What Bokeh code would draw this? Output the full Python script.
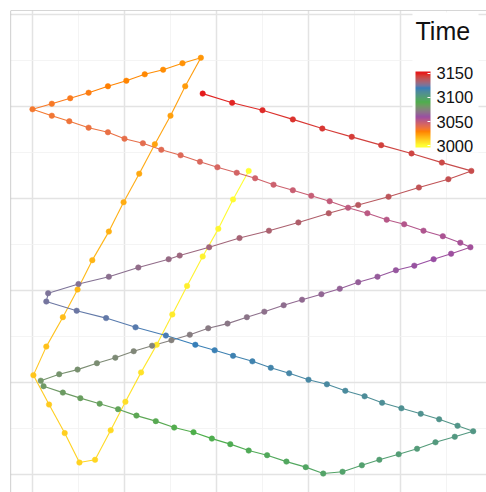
from bokeh.plotting import figure
from bokeh.models import (Range1d, Grid, FixedTicker, Span, ColorBar, LinearColorMapper,
                          BoxAnnotation, Label)
from bokeh.embed import file_html
from bokeh.resources import INLINE

# ---- data ----
x_pos = [23.5, 21.8, 20.2, 18.5, 16.8, 15.2, 13.5, 11.8, 10.1, 8.5, 6.8, 5.1, 3.5, 1.8, 0.1,
         1.5, 3.3, 4.9, 6.5, 8.3, 9.9, 11.6, 13.3, 15.0, 16.6, 18.3,
         16.3, 14.2, 12.2, 10.2, 8.2, 6.1, 4.1, 2.1, 0.0,
         2.1, 4.0, 6.1, 8.2, 10.0, 12.0, 14.0, 16.1, 18.2, 20.1, 22.2, 24.2, 26.2, 28.3, 30.3,
         32.3, 34.3, 36.4, 38.5, 40.4, 42.5, 44.6, 46.5, 47.6,
         45.5, 43.6, 41.5, 39.5, 37.5, 35.4, 33.4, 31.4, 29.3, 27.3, 25.2, 23.3, 21.2, 19.1,
         17.1, 15.1, 13.0, 11.0, 9.0, 7.0, 4.9, 2.9, 0.9,
         1.2, 3.3, 5.2, 7.3, 9.3, 11.3, 13.4, 15.4, 17.5, 19.5, 21.5, 23.5, 25.5, 27.6, 29.7,
         31.6, 33.7, 35.8, 37.7, 39.8, 41.8, 43.8, 45.9, 47.9,
         46.2, 44.2, 42.2, 40.1, 38.0, 36.1, 34.0, 32.0, 30.0, 27.9, 25.9, 23.9, 21.8, 19.8,
         17.7, 14.5, 11.2, 8.0, 4.8, 1.5,
         1.7, 5.0, 8.3, 11.5, 14.8, 16.0, 19.2, 22.5, 25.7, 28.9, 32.2, 35.4, 38.7, 42.0, 45.2, 47.7,
         44.5, 41.2, 37.9, 34.7, 31.5, 28.3, 25.0, 21.7, 18.5]

y_pos = [33.0, 29.9, 26.7, 23.7, 20.5, 17.4, 14.1, 11.1, 7.9, 4.8, 1.6, 1.3, 4.5, 7.6, 10.8,
         13.9, 17.1, 20.1, 23.3, 26.4, 29.6, 32.7, 35.9, 39.0, 42.2, 45.3,
         44.7, 44.0, 43.5, 42.8, 42.2, 41.5, 40.9, 40.3, 39.7,
         39.0, 38.4, 37.7, 37.2, 36.5, 36.0, 35.3, 34.7, 34.0, 33.4, 32.8, 32.2, 31.5, 30.9, 30.3,
         29.7, 29.0, 28.4, 27.7, 27.2, 26.5, 25.9, 25.2, 24.7,
         24.0, 23.4, 22.7, 22.2, 21.5, 20.9, 20.2, 19.6, 19.0, 18.4, 17.7, 17.1, 16.4, 15.9,
         15.2, 14.6, 14.0, 13.4, 12.7, 12.1, 11.4, 10.9, 10.2,
         9.6, 8.9, 8.3, 7.7, 7.1, 6.4, 5.8, 5.1, 4.6, 3.9, 3.3, 2.6, 2.1, 1.4, 0.8,
         0.1, 0.3, 1.0, 1.6, 2.2, 2.8, 3.5, 4.1, 4.7,
         5.3, 6.0, 6.6, 7.2, 7.8, 8.5, 9.1, 9.8, 10.3, 11.0, 11.6, 12.3, 12.9, 13.5,
         14.1, 15.1, 16.0, 17.0, 17.8, 18.8,
         19.7, 20.7, 21.5, 22.5, 23.4, 23.8, 24.7, 25.7, 26.5, 27.4, 28.4, 29.3, 30.2, 31.2, 32.1, 33.0,
         33.9, 34.9, 35.8, 36.7, 37.6, 38.6, 39.6, 40.4, 41.4]

time = [3000, 3001, 3002, 3003, 3004, 3005, 3006, 3007, 3008, 3009, 3010, 3011, 3012, 3013, 3014,
        3015, 3016, 3017, 3018, 3019, 3020, 3021, 3022, 3023, 3024, 3025, 3026, 3027, 3028, 3029,
        3030, 3031, 3032, 3033, 3034, 3035, 3036, 3037, 3038, 3039, 3040, 3041, 3042, 3043, 3044,
        3045, 3046, 3047, 3048, 3049, 3050, 3051, 3052, 3053, 3054, 3055, 3056, 3057, 3058, 3059,
        3060, 3061, 3062, 3063, 3064, 3065, 3066, 3067, 3068, 3069, 3070, 3071, 3072, 3073, 3074,
        3075, 3076, 3077, 3078, 3079, 3080, 3081, 3082, 3083, 3084, 3085, 3086, 3087, 3088, 3089,
        3090, 3091, 3092, 3093, 3094, 3095, 3096, 3097, 3098, 3099, 3100, 3101, 3102, 3103, 3104,
        3105, 3106, 3107, 3108, 3109, 3110, 3111, 3112, 3113, 3114, 3115, 3116, 3117, 3118, 3119,
        3120, 3121, 3122, 3123, 3124, 3125, 3126, 3127, 3128, 3129, 3130, 3131, 3132, 3133, 3134,
        3135, 3136, 3137, 3138, 3139, 3140, 3141, 3142, 3143, 3144, 3145, 3146, 3147, 3148, 3149,
        3150]

time_breaks = [3000, 3050, 3100, 3150]
legend_title = "Time"
palette_stops = ["#FFFF33", "#FF7F00", "#984EA3", "#4DAF4A", "#377EB8", "#E41A1C"]

x_major = [0, 10, 20, 30, 40, 50]
x_minor = [-5, 5, 15, 25, 35, 45, 55]
y_major = [0, 10, 20, 30, 40, 50]
y_minor = [-5, 5, 15, 25, 35, 45, 55]


# ---- colour ramp interpolated in CIELAB (like ggplot's gradientn) ----
def _lin(c):
    c = c / 255.0
    return c / 12.92 if c <= 0.04045 else ((c + 0.055) / 1.055) ** 2.4


def _gam(c):
    c = 12.92 * c if c <= 0.0031308 else 1.055 * (c ** (1 / 2.4)) - 0.055
    return max(0, min(255, round(c * 255)))


WP = (0.95047, 1.0, 1.08883)
D = 6 / 29


def _f(t):
    return t ** (1 / 3) if t > D ** 3 else t / (3 * D * D) + 4 / 29


def _finv(t):
    return t ** 3 if t > D else 3 * D * D * (t - 4 / 29)


def hex_to_lab(h):
    r, g, b = (_lin(int(h[i:i + 2], 16)) for i in (1, 3, 5))
    X = 0.4124564 * r + 0.3575761 * g + 0.1804375 * b
    Y = 0.2126729 * r + 0.7151522 * g + 0.0721750 * b
    Z = 0.0193339 * r + 0.1191920 * g + 0.9503041 * b
    fx, fy, fz = _f(X / WP[0]), _f(Y / WP[1]), _f(Z / WP[2])
    return (116 * fy - 16, 500 * (fx - fy), 200 * (fy - fz))


def lab_to_hex(lab):
    L, a, b = lab
    fy = (L + 16) / 116
    fx = fy + a / 500
    fz = fy - b / 200
    X, Y, Z = WP[0] * _finv(fx), WP[1] * _finv(fy), WP[2] * _finv(fz)
    r = 3.2404542 * X - 1.5371385 * Y - 0.4985314 * Z
    g = -0.9692660 * X + 1.8760108 * Y + 0.0415560 * Z
    bb = 0.0556434 * X - 0.2040259 * Y + 1.0572252 * Z
    return "#%02x%02x%02x" % (_gam(max(r, 0)), _gam(max(g, 0)), _gam(max(bb, 0)))


stop_labs = [hex_to_lab(c) for c in palette_stops]
t_lo, t_hi = min(time), max(time)


def ramp(v):
    f = (v - t_lo) / (t_hi - t_lo)
    f = max(0.0, min(1.0, f))
    n = len(stop_labs) - 1
    k = min(int(f * n), n - 1)
    u = f * n - k
    a, b = stop_labs[k], stop_labs[k + 1]
    return lab_to_hex(tuple(a[i] + (b[i] - a[i]) * u for i in range(3)))


point_cols = [ramp(t) for t in time]

# ---- figure ----
p = figure(width=486, height=492, output_backend="svg", toolbar_location=None,
           x_axis_location=None, y_axis_location=None,
           x_range=Range1d(-2.391, 49.348), y_range=Range1d(-1.957, 50.435),
           min_border_left=10, min_border_top=10, min_border_right=0, min_border_bottom=0,
           outline_line_color=None, background_fill_color="white", border_fill_color="white")

p.center = []
p.add_layout(Grid(dimension=0, ticker=FixedTicker(ticks=x_major, minor_ticks=x_minor),
                  grid_line_color="#E3E3E3", grid_line_width=1.5,
                  minor_grid_line_color="#F1F1F1", minor_grid_line_width=0.8))
p.add_layout(Grid(dimension=1, ticker=FixedTicker(ticks=y_major, minor_ticks=y_minor),
                  grid_line_color="#E3E3E3", grid_line_width=1.5,
                  minor_grid_line_color="#F1F1F1", minor_grid_line_width=0.8))

# white key box drawn over the grid but under the data
p.add_layout(BoxAnnotation(left=402, right=468, bottom=340, top=480,
                           left_units="screen", right_units="screen",
                           bottom_units="screen", top_units="screen",
                           fill_color="white", fill_alpha=1.0, line_color=None,
                           level="underlay"))

p.add_layout(Span(location=p.y_range.end, dimension="width", line_color="#ADADAD", line_width=1.2))
p.add_layout(Span(location=p.x_range.start, dimension="height", line_color="#ADADAD", line_width=1.2))

p.segment(x0=x_pos[:-1], y0=y_pos[:-1], x1=x_pos[1:], y1=y_pos[1:],
          line_color=point_cols[:-1], line_width=1.1)
p.scatter(x_pos, y_pos, size=5.5, fill_color=point_cols, line_color=point_cols, line_width=0.5)

# ---- colour bar legend ----
pad = 3.95
bar_lo, bar_hi = t_lo - pad, t_hi + pad
bar_palette = [ramp(bar_lo + (bar_hi - bar_lo) * (i + 0.5) / 256) for i in range(256)]
mapper = LinearColorMapper(palette=bar_palette, low=bar_lo, high=bar_hi)

cb = ColorBar(color_mapper=mapper, ticker=FixedTicker(ticks=time_breaks),
              width=15, height=76,
              major_label_text_font="Liberation Sans", major_label_text_font_size="16.5px",
              major_label_text_color="#111111", label_standoff=6,
              major_tick_in=3, major_tick_out=0, major_tick_line_color="white",
              minor_tick_line_color=None, bar_line_color=None,
              background_fill_color=None, border_line_color=None,
              padding=3, location=(402, 342))
p.add_layout(cb)

p.add_layout(Label(x=405, y=462, x_units="screen", y_units="screen", text=legend_title,
                   text_font="Liberation Sans", text_font_size="25px",
                   text_color="#111111", text_baseline="alphabetic", text_align="left"))

open("out.html", "w").write(file_html(p, INLINE))
